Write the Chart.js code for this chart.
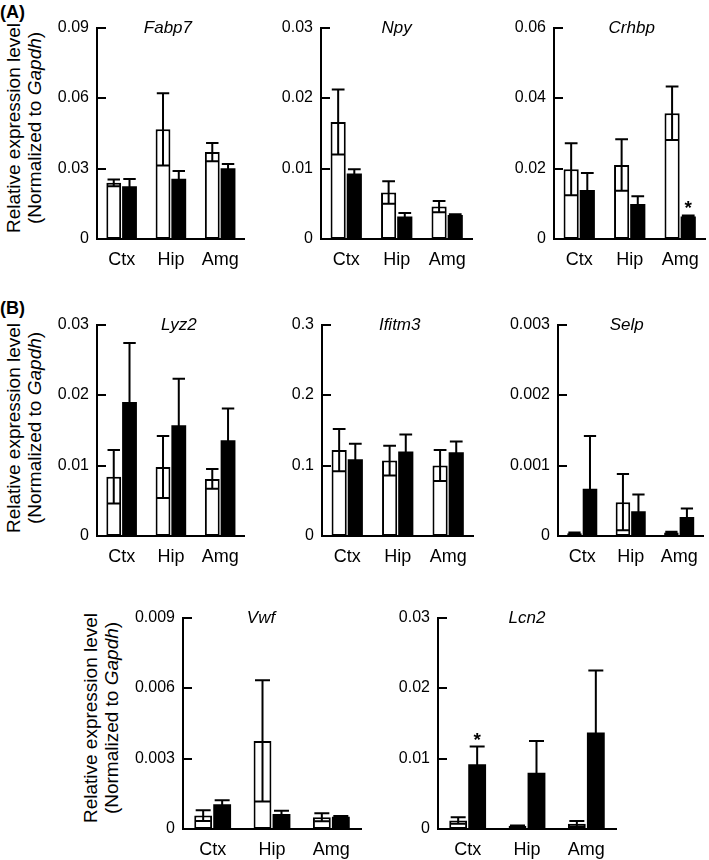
<!DOCTYPE html>
<html>
<head>
<meta charset="utf-8">
<script src="https://cdn.jsdelivr.net/npm/chart.js@4.4.1/dist/chart.umd.min.js"></script>
<style>
    body {
        margin: 0;
        width: 709px;
        height: 860px;
        overflow: hidden;
        background: #fff;
        position: relative;
        font-family: "Liberation Sans", Arial, sans-serif;
        color: #000;
    }
    canvas { position: absolute; }
    .panel {
        position: absolute;
        left: 0;
        font-weight: bold;
        font-size: 18px;
        line-height: 21px;
    }
    .ytitle {
        position: absolute;
        font-size: 19px;
        line-height: 21px;
        text-align: center;
        white-space: nowrap;
        transform: translate(-50%, -50%) rotate(-90deg);
    }
</style>
</head>
<body>
<div class="panel" style="top:2px">(A)</div>
<div class="panel" style="top:298px">(B)</div>
<div class="ytitle" style="left:24px; top:128px">Relative expression level<br>(Normalized to <i>Gapdh</i>)</div>
<div class="ytitle" style="left:24px; top:428px">Relative expression level<br>(Normalized to <i>Gapdh</i>)</div>
<div class="ytitle" style="left:101px; top:718px">Relative expression level<br>(Normalized to <i>Gapdh</i>)</div>

<script>
// brain regions (x categories)
const regions = ["Ctx", "Hip", "Amg"];

// open bars / filled bars, mean and upper error (SEM)
const fabp7Open = [0.0239, 0.0467, 0.0370];
const fabp7OpenErr = [0.0014, 0.0154, 0.0039];
const fabp7Filled = [0.0225, 0.0257, 0.0301];
const fabp7FilledErr = [0.0030, 0.0033, 0.0018];
const fabp7Ticks = ["0", "0.03", "0.06", "0.09"];

const npyOpen = [0.0166, 0.0066, 0.0046];
const npyOpenErr = [0.0046, 0.0016, 0.0008];
const npyFilled = [0.0093, 0.0032, 0.0034];
const npyFilledErr = [0.0006, 0.0005, 0.0001];
const npyTicks = ["0", "0.01", "0.02", "0.03"];

const crhbpOpen = [0.0198, 0.0210, 0.0357];
const crhbpOpenErr = [0.0074, 0.0073, 0.0076];
const crhbpFilled = [0.0139, 0.0099, 0.0064];
const crhbpFilledErr = [0.0048, 0.0022, 0.0003];
const crhbpSig = ["", "", "*"];
const crhbpTicks = ["0", "0.02", "0.04", "0.06"];

const lyz2Open = [0.0084, 0.0098, 0.0081];
const lyz2OpenErr = [0.0038, 0.0044, 0.0014];
const lyz2Filled = [0.0190, 0.0157, 0.0136];
const lyz2FilledErr = [0.0084, 0.0066, 0.0045];
const lyz2Ticks = ["0", "0.01", "0.02", "0.03"];

const ifitm3Open = [0.122, 0.107, 0.100];
const ifitm3OpenErr = [0.030, 0.021, 0.022];
const ifitm3Filled = [0.109, 0.120, 0.119];
const ifitm3FilledErr = [0.022, 0.024, 0.015];
const ifitm3Ticks = ["0", "0.1", "0.2", "0.3"];

const selpOpen = [0.00004, 0.00048, 0.00005];
const selpOpenErr = [0.00001, 0.00040, 0.00001];
const selpFilled = [0.00067, 0.00035, 0.00027];
const selpFilledErr = [0.00075, 0.00024, 0.00012];
const selpTicks = ["0", "0.001", "0.002", "0.003"];

const vwfOpen = [0.00057, 0.00375, 0.00050];
const vwfOpenErr = [0.00023, 0.00258, 0.00017];
const vwfFilled = [0.00105, 0.00064, 0.00052];
const vwfFilledErr = [0.00017, 0.00014, 0.00003];
const vwfTicks = ["0", "0.003", "0.006", "0.009"];

const lcn2Open = [0.0012, 0.00046, 0.00074];
const lcn2OpenErr = [0.00045, 0.00005, 0.0004];
const lcn2Filled = [0.0092, 0.0080, 0.0137];
const lcn2FilledErr = [0.0025, 0.0045, 0.0088];
const lcn2Sig = ["*", "", ""];
const lcn2Ticks = ["0", "0.01", "0.02", "0.03"];

Chart.defaults.font.family = '"Liberation Sans", Arial, sans-serif';
Chart.defaults.color = "#000";

const AXIS_W = 50, PAD_T = 12, PAD_R = 2, XAXIS_H = 40, PLOT_H = 217;

// error bars + asterisks
const errorBars = {
    id: "errorBars",
    afterDatasetsDraw(chart) {
        const ctx = chart.ctx;
        const y = chart.scales.y;
        ctx.save();
        ctx.strokeStyle = "#000";
        ctx.lineWidth = 2;
        chart.data.datasets.forEach((ds, di) => {
            chart.getDatasetMeta(di).data.forEach((bar, i) => {
                const m = ds.data[i], e = ds.errors[i];
                const top = y.getPixelForValue(m + e);
                const bot = y.getPixelForValue(Math.max(0, m - e));
                const half = bar.width * 0.42;
                ctx.beginPath();
                ctx.moveTo(bar.x, bot); ctx.lineTo(bar.x, top);
                ctx.moveTo(bar.x - half, top); ctx.lineTo(bar.x + half, top);
                ctx.moveTo(bar.x - half, bot); ctx.lineTo(bar.x + half, bot);
                ctx.stroke();

                if (ds.sig && ds.sig[i]) {
                    ctx.fillStyle = "#000";
                    ctx.font = 'bold 19px "Liberation Sans", Arial, sans-serif';
                    ctx.textAlign = "center";
                    ctx.textBaseline = "alphabetic";
                    ctx.fillText(ds.sig[i], bar.x, top - 1);
                }
            });
        });
        ctx.restore();
    }
};

// inward tick marks + italic gene name
const axisDeco = {
    id: "axisDeco",
    afterDraw(chart, args, opts) {
        const ctx = chart.ctx;
        const area = chart.chartArea;
        const y = chart.scales.y;
        ctx.save();
        ctx.strokeStyle = "#000";
        ctx.lineWidth = 2;
        ctx.beginPath();
        y.ticks.forEach(t => {
            if (t.value === 0) return;
            const py = Math.round(y.getPixelForValue(t.value));
            ctx.moveTo(area.left, py);
            ctx.lineTo(area.left + 9, py);
        });
        ctx.stroke();

        ctx.fillStyle = "#000";
        ctx.font = 'italic 17px "Liberation Sans", Arial, sans-serif';
        ctx.textAlign = "center";
        ctx.textBaseline = "middle";
        ctx.fillText(opts.text, (area.left + area.right) / 2 + (opts.dx || 0), area.top + 1);
        ctx.restore();
    }
};

function makeChart(c) {
    const canvas = document.createElement("canvas");
    canvas.width = AXIS_W + c.plotW + PAD_R;
    canvas.height = PAD_T + PLOT_H + XAXIS_H;
    canvas.style.left = (c.ax - AXIS_W) + "px";
    canvas.style.top = (c.top - PAD_T) + "px";
    document.body.appendChild(canvas);

    new Chart(canvas, {
        type: "bar",
        data: {
            labels: regions,
            datasets: [
                {
                    data: c.open, errors: c.openErr,
                    backgroundColor: "#fff", borderColor: "#000",
                    borderWidth: 2, borderSkipped: false
                },
                {
                    data: c.filled, errors: c.filledErr, sig: c.sig,
                    backgroundColor: "#000", borderColor: "#000",
                    borderWidth: 0
                }
            ]
        },
        options: {
            responsive: false,
            animation: false,
            categoryPercentage: 0.64,
            barPercentage: 0.94,
            layout: { padding: { top: PAD_T, right: PAD_R, left: 0, bottom: 0 } },
            plugins: {
                legend: { display: false },
                tooltip: { enabled: false },
                axisDeco: { text: c.title, dx: c.titleDx }
            },
            scales: {
                x: {
                    grid: { display: false, drawTicks: false },
                    border: { display: true, color: "#000", width: 2 },
                    ticks: { font: { size: 18 }, padding: 10, autoSkip: false, maxRotation: 0 },
                    afterFit: s => { s.height = XAXIS_H; }
                },
                y: {
                    min: 0,
                    max: parseFloat(c.ticks[c.ticks.length - 1]),
                    grid: { display: false, drawTicks: false },
                    border: { display: true, color: "#000", width: 2 },
                    afterBuildTicks: s => { s.ticks = c.ticks.map(t => ({ value: parseFloat(t) })); },
                    ticks: { font: { size: 16 }, padding: 8, callback: (v, i) => c.ticks[i] },
                    afterFit: s => { s.width = AXIS_W; }
                }
            }
        },
        plugins: [errorBars, axisDeco]
    });
}

makeChart({ title: "Fabp7", ax: 97, top: 22, plotW: 150, open: fabp7Open, openErr: fabp7OpenErr, filled: fabp7Filled, filledErr: fabp7FilledErr, ticks: fabp7Ticks, titleDx: -3 });
makeChart({ title: "Npy", ax: 321, top: 22, plotW: 153, open: npyOpen, openErr: npyOpenErr, filled: npyFilled, filledErr: npyFilledErr, ticks: npyTicks });
makeChart({ title: "Crhbp", ax: 554, top: 22, plotW: 153, open: crhbpOpen, openErr: crhbpOpenErr, filled: crhbpFilled, filledErr: crhbpFilledErr, sig: crhbpSig, ticks: crhbpTicks, titleDx: 2 });

makeChart({ title: "Lyz2", ax: 97, top: 319, plotW: 150, open: lyz2Open, openErr: lyz2OpenErr, filled: lyz2Filled, filledErr: lyz2FilledErr, ticks: lyz2Ticks, titleDx: 8 });
makeChart({ title: "Ifitm3", ax: 322, top: 319, plotW: 153, open: ifitm3Open, openErr: ifitm3OpenErr, filled: ifitm3Filled, filledErr: ifitm3FilledErr, ticks: ifitm3Ticks, titleDx: 2 });
makeChart({ title: "Selp", ax: 558, top: 319, plotW: 148, open: selpOpen, openErr: selpOpenErr, filled: selpFilled, filledErr: selpFilledErr, ticks: selpTicks, titleDx: -4 });

makeChart({ title: "Vwf", ax: 183, top: 612, plotW: 178, open: vwfOpen, openErr: vwfOpenErr, filled: vwfFilled, filledErr: vwfFilledErr, ticks: vwfTicks, titleDx: -11 });
makeChart({ title: "Lcn2", ax: 438, top: 612, plotW: 178, open: lcn2Open, openErr: lcn2OpenErr, filled: lcn2Filled, filledErr: lcn2FilledErr, sig: lcn2Sig, ticks: lcn2Ticks });
</script>
</body>
</html>
